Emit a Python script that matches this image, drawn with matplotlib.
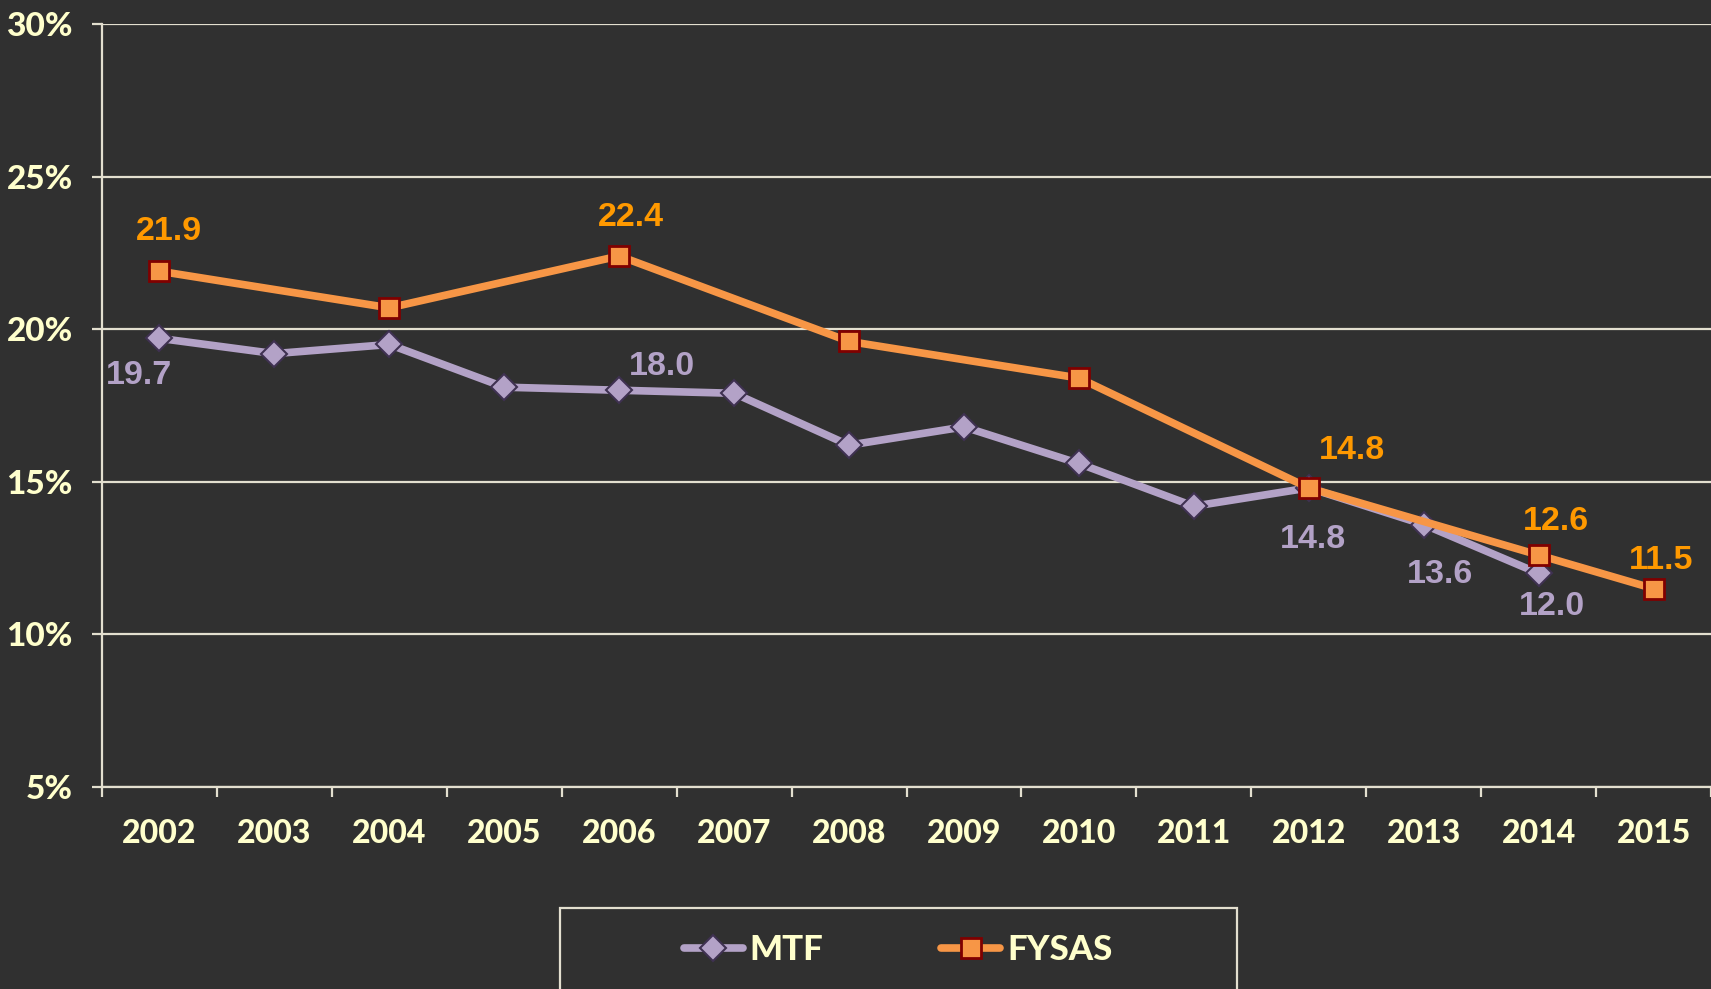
import numpy as np
from matplotlib import pyplot as plt
from matplotlib.patches import Rectangle

# data
years = ['2002', '2003', '2004', '2005', '2006', '2007', '2008',
         '2009', '2010', '2011', '2012', '2013', '2014', '2015']
mtf = [19.7, 19.2, 19.5, 18.1, 18.0, 17.9, 16.2, 16.8, 15.6, 14.2, 14.8, 13.6, 12.0, np.nan]
fysas = [21.9, np.nan, 20.7, np.nan, 22.4, np.nan, 19.6, np.nan, 18.4, np.nan, 14.8, np.nan, 12.6, 11.5]
yticks = [5, 10, 15, 20, 25, 30]
ytick_labels = ['5%', '10%', '15%', '20%', '25%', '30%']

# which points get a value label, and the pixel offset of each label
mtf_labels = {0: (-20, -37), 4: (43, 24), 10: (4, -52), 11: (16, -50), 12: (13, -33)}
fysas_labels = {0: (9, 40), 4: (12, 38), 10: (43, 37), 12: (17, 34), 13: (8, 28)}

BG = '#303030'
GRID = '#E3DFCF'
TXT = '#FFFFCC'
MTF_C = '#B3A2C7'
MTF_EDGE = '#3F3151'
FY_C = '#F79646'
FY_EDGE = '#7F0000'
FY_LAB = '#FF9900'

fig = plt.figure(figsize=(17.11, 9.89), dpi=100, facecolor=BG)
ax = fig.add_axes([102 / 1711, 1 - 787 / 989, 1 - 102 / 1711, (787 - 24) / 989])
ax.set_facecolor(BG)

x = np.arange(len(years))
mtf = np.array(mtf)
fysas = np.array(fysas)
m1 = ~np.isnan(mtf)
m2 = ~np.isnan(fysas)

l1, = ax.plot(x[m1], mtf[m1], color=MTF_C, lw=5.5, marker='D', ms=13,
              markerfacecolor=MTF_C, markeredgecolor=MTF_EDGE, markeredgewidth=1.5,
              solid_capstyle='round', zorder=3, label='MTF')
l2, = ax.plot(x[m2], fysas[m2], color=FY_C, lw=5.5, marker='s', ms=14,
              markerfacecolor=FY_C, markeredgecolor=FY_EDGE, markeredgewidth=2,
              solid_capstyle='round', zorder=4, label='FYSAS')

for i, (dx, dy) in mtf_labels.items():
    ax.annotate('%.1f' % mtf[i], (x[i], mtf[i]), xytext=(dx, dy), textcoords='offset pixels',
                ha='center', va='center', color=MTF_C, fontsize=24.5,
                fontweight='bold', family='Liberation Sans', zorder=5)
for i, (dx, dy) in fysas_labels.items():
    ax.annotate('%.1f' % fysas[i], (x[i], fysas[i]), xytext=(dx, dy), textcoords='offset pixels',
                ha='center', va='center', color=FY_LAB, fontsize=24.5,
                fontweight='bold', family='Liberation Sans', zorder=5)

ax.set_ylim(5, 30)
ax.set_xlim(-0.5, -0.5 + (1711 - 102) / 115.3)
ax.set_yticks(yticks)
ax.set_yticklabels(ytick_labels)
ax.yaxis.grid(True, color=GRID, lw=1.6)
ax.set_axisbelow(True)

# tick marks between categories, labels at category centres
ax.set_xticks(np.arange(len(years) + 1) - 0.5)
ax.set_xticklabels([])
ax.set_xticks(x, minor=True)
ax.set_xticklabels(years, minor=True)
ax.tick_params(axis='x', which='major', length=7, width=1.6, color=GRID, direction='out')
ax.tick_params(axis='x', which='minor', length=0, pad=23, labelcolor=TXT, labelsize=23)
ax.tick_params(axis='y', length=7, width=1.6, color=GRID, pad=14, labelcolor=TXT, labelsize=24)
for lab in ax.get_xticklabels(minor=True) + ax.get_yticklabels():
    lab.set_family('Lato')
    lab.set_fontweight('black')

for s in ['top', 'right']:
    ax.spines[s].set_visible(False)
for s in ['left', 'bottom']:
    ax.spines[s].set_color(GRID)
    ax.spines[s].set_linewidth(1.6)

# legend box (runs off the bottom of the picture)
fig.patches.append(Rectangle((560 / 1711, -0.05), (1237 - 560) / 1711, 0.05 + 1 - 908 / 989,
                             transform=fig.transFigure, facecolor='none',
                             edgecolor=GRID, lw=1.6))
leg = fig.legend(handles=[l1, l2], loc='center', bbox_to_anchor=(898 / 1711, 1 - 950 / 989),
                 ncol=2, frameon=False, handlelength=1.7, handletextpad=0.2,
                 columnspacing=3.4, prop={'family': 'Lato', 'weight': 'black', 'size': 25})
for t in leg.get_texts():
    t.set_color(TXT)

fig.savefig('out.png', dpi=100, facecolor=BG)
